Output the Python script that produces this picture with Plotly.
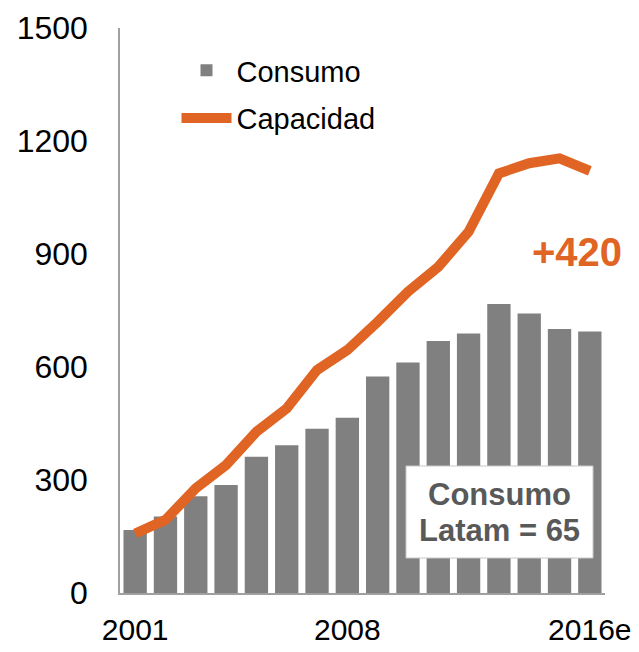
import plotly.graph_objects as go

years = ["2001", "2002", "2003", "2004", "2005", "2006", "2007", "2008",
         "2009", "2010", "2011", "2012", "2013", "2014", "2015", "2016e"]
consumo = [167, 203, 257, 287, 362, 392, 436, 465,
           575, 612, 669, 689, 767, 742, 701, 694]
capacidad = [158, 194, 278, 340, 428, 490, 592, 645,
             720, 800, 866, 959, 1114, 1141, 1154, 1121]
x_tick_vals = ["2001", "2008", "2016e"]
y_tick_vals = [0, 300, 600, 900, 1200, 1500]

GREY = "#808080"
ORANGE = "#E06423"
FONT = "Arial, Liberation Sans, sans-serif"

fig = go.Figure()
fig.add_trace(go.Bar(x=years, y=consumo, name="Consumo", legendgroup="c",
                     marker=dict(color=GREY, line=dict(width=0))))
fig.add_trace(go.Scatter(x=years, y=capacidad, name="Capacidad", mode="lines",
                         legendgroup="k",
                         line=dict(color=ORANGE, width=10)))

box_font = dict(size=31, color="#595959", family=FONT)

fig.update_layout(
    width=639, height=652,
    margin=dict(l=112, r=42, t=20, b=67),
    paper_bgcolor="white", plot_bgcolor="white",
    font=dict(family=FONT, color="black", size=32),
    bargap=0.23,
    showlegend=True,
    legend=dict(x=0.1165, y=0.97, xanchor="left", yanchor="top",
                font=dict(size=29, color="black"),
                bgcolor="rgba(0,0,0,0)", tracegroupgap=7,
                itemwidth=50),
    xaxis=dict(type="category", tickmode="array", tickvals=x_tick_vals,
               ticktext=x_tick_vals, showline=True, linecolor="#a0a0a0",
               linewidth=1.5, showgrid=False, ticks="outside", ticklen=9,
               tickcolor="rgba(0,0,0,0)", tickfont=dict(size=30),
               range=[-0.5, 15.5], automargin=False),
    yaxis=dict(range=[0, 1500], tickvals=y_tick_vals, showline=True,
               linecolor="#a0a0a0", linewidth=1.5, showgrid=False,
               zeroline=False, ticks="outside", ticklen=24,
               tickcolor="rgba(0,0,0,0)", tickfont=dict(size=32),
               automargin=False),
    shapes=[
        dict(type="rect", xref="paper", yref="paper",
             x0=0.5897, x1=0.9753, y0=0.0619, y1=0.2248,
             fillcolor="white", line=dict(color="#c8c8c8", width=1)),
    ],
    annotations=[
        dict(x=0.7825, y=0.1735, xref="paper", yref="paper",
             xanchor="center", yanchor="middle",
             text="<b>Consumo</b>", showarrow=False, font=box_font),
        dict(x=0.7825, y=0.1103, xref="paper", yref="paper",
             xanchor="center", yanchor="middle",
             text="<b>Latam = 65</b>", showarrow=False, font=box_font),
        dict(x=0.942, y=0.6035, xref="paper", yref="paper",
             xanchor="center", yanchor="middle",
             text="<b>+420</b>", showarrow=False,
             font=dict(size=40, color=ORANGE, family=FONT)),
    ],
)

fig.write_html("out.html")
